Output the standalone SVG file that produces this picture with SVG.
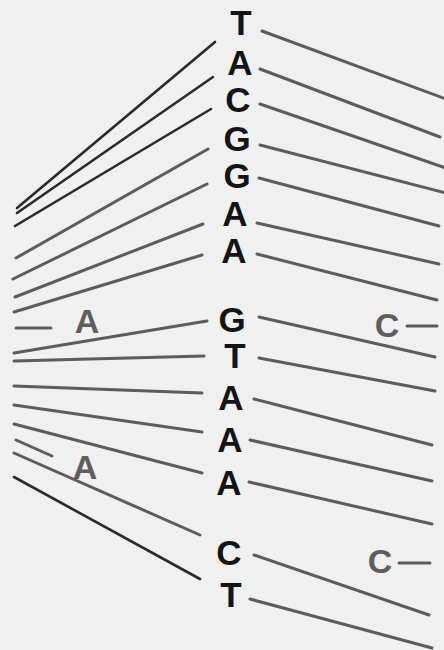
<svg xmlns="http://www.w3.org/2000/svg" width="444" height="650" viewBox="0 0 444 650">
<style>
.base{font-family:"Liberation Sans",Arial,sans-serif;font-weight:bold;font-size:35px;fill:#141414;text-anchor:middle}
.lab{font-family:"Liberation Sans",Arial,sans-serif;font-weight:bold;font-size:34px;fill:#5e5e5e;text-anchor:middle}
.ln{stroke:#5c5c5c;stroke-width:3;stroke-linecap:round;fill:none}
.dk{stroke:#2a2a2a;stroke-width:2.6;stroke-linecap:round;fill:none}
</style>
<rect width="444" height="650" fill="#f0f0f0"/>
<g id="connectors">
<line class="dk" x1="17" y1="208" x2="215" y2="42"/>
<line class="dk" x1="17" y1="213" x2="213" y2="77"/>
<line class="dk" x1="15" y1="226" x2="211" y2="109"/>
<line class="ln" x1="16" y1="258" x2="208" y2="149"/>
<line class="ln" x1="13" y1="279" x2="207" y2="184"/>
<line class="ln" x1="15" y1="297" x2="203" y2="224"/>
<line class="ln" x1="14" y1="312" x2="202" y2="255"/>
<line class="ln" x1="16" y1="328" x2="51" y2="328"/>
<line class="ln" x1="14" y1="353" x2="207" y2="321"/>
<line class="ln" x1="14" y1="361" x2="204" y2="356"/>
<line class="ln" x1="14" y1="386" x2="202" y2="393"/>
<line class="ln" x1="14" y1="405" x2="202" y2="432"/>
<line class="ln" x1="14" y1="424" x2="202" y2="473"/>
<line class="ln" x1="16" y1="440" x2="52" y2="456"/>
<line class="ln" x1="14" y1="453" x2="200" y2="535"/>
<line class="dk" x1="14" y1="477" x2="200" y2="579"/>
<line class="ln" x1="262" y1="31" x2="446" y2="99"/>
<line class="ln" x1="260" y1="69" x2="440" y2="137"/>
<line class="ln" x1="260" y1="104" x2="446" y2="168"/>
<line class="ln" x1="260" y1="145" x2="446" y2="193"/>
<line class="ln" x1="259" y1="178" x2="439" y2="226"/>
<line class="ln" x1="257" y1="223" x2="439" y2="264"/>
<line class="ln" x1="257" y1="254" x2="437" y2="300"/>
<line class="ln" x1="259" y1="317" x2="435" y2="357"/>
<line class="ln" x1="259" y1="358" x2="435" y2="391"/>
<line class="ln" x1="254" y1="399" x2="432" y2="445"/>
<line class="ln" x1="250" y1="440" x2="432" y2="481"/>
<line class="ln" x1="249" y1="482" x2="432" y2="524"/>
<line class="ln" x1="254" y1="555" x2="429" y2="615"/>
<line class="ln" x1="250" y1="599" x2="432" y2="648"/>
<line class="ln" x1="407" y1="326" x2="437" y2="326"/>
<line class="ln" x1="399" y1="563" x2="430" y2="563"/>
</g>
<g id="n1"><text class="base" x="241" y="35">T</text></g>
<g id="n2"><text class="base" x="240" y="75">A</text></g>
<g id="n3"><text class="base" x="238" y="112">C</text></g>
<g id="n4"><text class="base" x="237" y="151">G</text></g>
<g id="n5"><text class="base" x="237" y="188">G</text></g>
<g id="n6"><text class="base" x="235" y="226">A</text></g>
<g id="n7"><text class="base" x="234" y="263">A</text></g>
<g id="n8"><text class="base" x="232" y="332">G</text></g>
<g id="n9"><text class="base" x="235" y="368">T</text></g>
<g id="n10"><text class="base" x="231" y="410">A</text></g>
<g id="n11"><text class="base" x="230" y="452">A</text></g>
<g id="n12"><text class="base" x="229" y="495">A</text></g>
<g id="n13"><text class="base" x="229" y="565">C</text></g>
<g id="n14"><text class="base" x="231" y="607">T</text></g>
<g id="labA1"><text class="lab" x="87" y="333">A</text></g>
<g id="labA2"><text class="lab" x="85" y="479">A</text></g>
<g id="labC1"><text class="lab" x="387" y="337">C</text></g>
<g id="labC2"><text class="lab" x="380" y="573">C</text></g>
</svg>
